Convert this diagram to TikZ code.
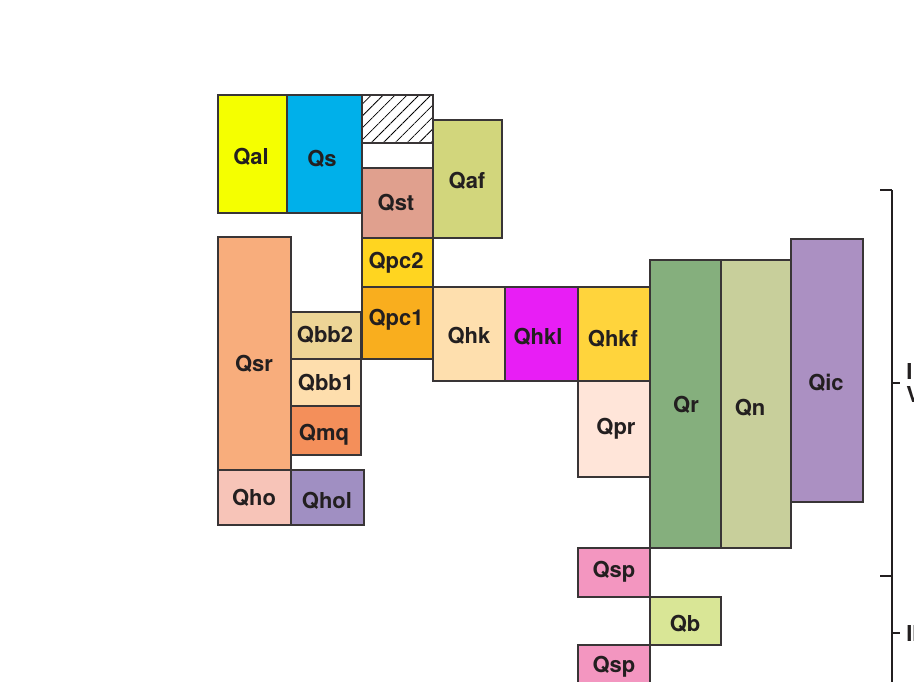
\documentclass[tikz,border=0pt]{standalone}
\usepackage{fontspec}
\setmainfont{TeX Gyre Heros}
\usetikzlibrary{patterns.meta}
\definecolor{ink}{HTML}{231F20}
\definecolor{cQal}{HTML}{F5FF00}
\definecolor{cQs}{HTML}{00B0EA}
\definecolor{cQaf}{HTML}{D2D67C}
\definecolor{cQst}{HTML}{E0A08E}
\definecolor{cQpcb}{HTML}{FFD520}
\definecolor{cQpca}{HTML}{F9AE1E}
\definecolor{cQhk}{HTML}{FEDFAE}
\definecolor{cQhkl}{HTML}{E81EF5}
\definecolor{cQhkf}{HTML}{FFD43C}
\definecolor{cQpr}{HTML}{FFE5D9}
\definecolor{cQr}{HTML}{85AF7D}
\definecolor{cQn}{HTML}{C8CF9B}
\definecolor{cQic}{HTML}{AB90C2}
\definecolor{cQsp}{HTML}{F396C0}
\definecolor{cQb}{HTML}{D9E696}
\definecolor{cQsr}{HTML}{F8AD7C}
\definecolor{cQbbb}{HTML}{EDD596}
\definecolor{cQbba}{HTML}{FEDEAD}
\definecolor{cQmq}{HTML}{F48F5A}
\definecolor{cQho}{HTML}{F7C4B8}
\definecolor{cQhol}{HTML}{A08FC2}
\tikzset{unit/.style={draw=ink!90,line width=0.7pt},
  lbl/.style={text=ink,font=\fontsize{12.5}{14}\selectfont\bfseries,inner sep=0pt},
  brk/.style={draw=ink,line width=0.75pt}}

\begin{document}
\begin{tikzpicture}[x=0.02cm,y=-0.02cm]
\useasboundingbox (0,0) rectangle (914,681);
% upper left block
\draw[unit,fill=cQal] (218,95) rectangle (287,213); \node[lbl] (qal) at (251,157) {Qal};
\draw[unit,fill=cQs] (287,95) rectangle (362,213); \node[lbl] (qs) at (322,159) {Qs};
\draw[unit,pattern={Lines[angle=45,distance=4.8pt,line width=0.45pt]}] (362,95) rectangle (433,143);
\draw[unit] (362,143) rectangle (433,168);
\draw[unit,fill=cQaf] (433,120) rectangle (502,238); \node[lbl] (qaf) at (467,181) {Qaf};
\draw[unit,fill=cQst] (362,168) rectangle (433,238); \node[lbl] (qst) at (396,203) {Qst};
\draw[unit,fill=cQpcb] (362,238) rectangle (433,287); \node[lbl] (qpc2) at (396,263) {Qpc2};
\draw[unit,fill=cQpca] (362,287) rectangle (433,359); \node[lbl] (qpc1) at (396,320) {Qpc1};
% lower left block
\draw[unit,fill=cQsr] (218,237) rectangle (291,470); \node[lbl] (qsr) at (254,364) {Qsr};
\draw[unit,fill=cQbbb] (291,312) rectangle (361,359); \node[lbl] (qbb2) at (325,335) {Qbb2};
\draw[unit,fill=cQbba] (291,359) rectangle (361,406); \node[lbl] (qbb1) at (326,383) {Qbb1};
\draw[unit,fill=cQmq] (291,406) rectangle (361,455); \node[lbl] (qmq) at (324,435) {Qmq};
\draw[unit,fill=cQho] (218,470) rectangle (291,525); \node[lbl] (qho) at (254,498) {Qho};
\draw[unit,fill=cQhol] (291,470) rectangle (364,525); \node[lbl] (qhol) at (327,501) {Qhol};
% middle row
\draw[unit,fill=cQhk] (433,287) rectangle (505,381); \node[lbl] (qhk) at (469,336) {Qhk};
\draw[unit,fill=cQhkl] (505,287) rectangle (578,381); \node[lbl] (qhkl) at (538,337) {Qhkl};
\draw[unit,fill=cQhkf] (578,287) rectangle (650,381); \node[lbl] (qhkf) at (613,339) {Qhkf};
\draw[unit,fill=cQpr] (578,381) rectangle (650,477); \node[lbl] (qpr) at (616,429) {Qpr};
% right columns
\draw[unit,fill=cQr] (650,260) rectangle (721,548); \node[lbl] (qr) at (686,405) {Qr};
\draw[unit,fill=cQn] (721,260) rectangle (791,548); \node[lbl] (qn) at (750,408) {Qn};
\draw[unit,fill=cQic] (791,239) rectangle (863,502); \node[lbl] (qic) at (826,383) {Qic};
% bottom
\draw[unit,fill=cQsp] (578,548) rectangle (650,597); \node[lbl] (qspa) at (614,572) {Qsp};
\draw[unit,fill=cQb] (650,597) rectangle (721,645); \node[lbl] (qb) at (685,624) {Qb};
\draw[unit,fill=cQsp] (578,645) rectangle (650,700); \node[lbl] (qspb) at (614,667) {Qsp};
% bracket on the right
\coordinate (btop) at (892,190); \coordinate (bmid) at (892,576); \coordinate (bend) at (892,700);
\draw[brk] (btop) -- (bend);
\draw[brk] (btop) -- ++(-12,0); \draw[brk] (bmid) -- ++(-12,0);
\draw[brk] (892,383) -- ++(8,0) coordinate (tka); \draw[brk] (892,633) -- ++(8,0) coordinate (tkb);
\node[lbl,anchor=west,align=left,font=\fontsize{12.5}{13}\selectfont\bfseries] (unita) at ([xshift=0.12cm]tka) {I\\V};
\node[lbl,anchor=west] (unitb) at ([xshift=0.12cm]tkb) {II};
\end{tikzpicture}
\end{document}
